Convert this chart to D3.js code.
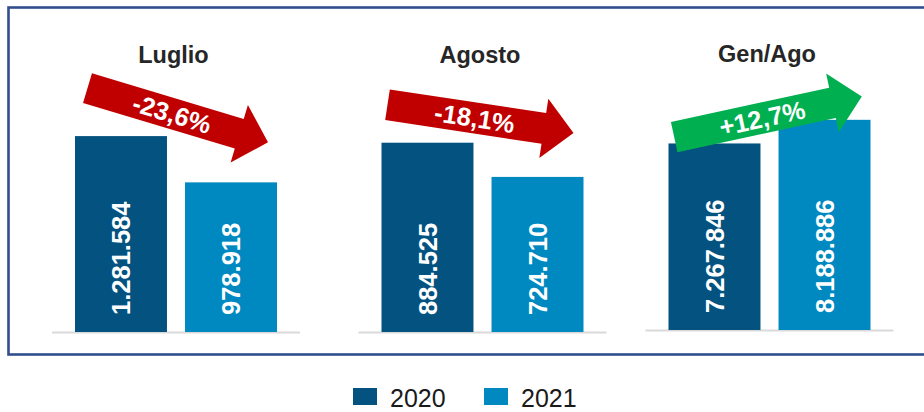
<!DOCTYPE html>
<html>
<head>
<meta charset="utf-8">
<script src="https://cdn.jsdelivr.net/npm/d3@7"></script>
<style>
  html, body { margin: 0; padding: 0; background: #ffffff; }
  svg { display: block; font-family: "Liberation Sans", Arial, Helvetica, sans-serif; }
</style>
</head>
<body>
<svg id="chart" width="924" height="412"></svg>
<script>
// ---- Data ----
const panels = ["Luglio", "Agosto", "Gen/Ago"];
const seriesNames = ["2020", "2021"];
const values2020 = [1281584, 884525, 7267846];
const values2021 = [978918, 724710, 8188886];
const changeLabels = ["-23,6%", "-18,1%", "+12,7%"];
const yMaxes = [1400000, 1000000, 9000000];

// ---- Layout / style ----
const W = 924, H = 412;
const colors = { "2020": "#03527f", "2021": "#0088c1" };
const panelCenters = [176, 482.5, 769.5];
const baselines = [332, 332, 330];
const plotHeights = [214, 214, 231];
const arrowColors = ["#c00000", "#c00000", "#00b050"];
// arrow offsets relative to bar tops: [startDx from bar1 left, startDy above bar1 top, tipDx from bar2 right, tipDy above bar2 top]
const arrowOffsets = [[12.5, 48, 9, 40], [6, 38, 10, 44], [5.7, 6.3, 8.7, 23.3]];

const it = d3.formatLocale({ decimal: ",", thousands: ".", grouping: [3], currency: ["€", ""] });
const fmt = it.format(",d");

const svg = d3.select("#chart");
svg.append("rect").attr("width", W).attr("height", H).attr("fill", "#ffffff");

// border box (right side runs off the picture)
svg.append("rect")
  .attr("x", 8.5).attr("y", 7.5).attr("width", 960).attr("height", 347)
  .attr("fill", "none").attr("stroke", "#304f8c").attr("stroke-width", 2.6);

panels.forEach((name, i) => {
  const cx = panelCenters[i];
  const x = d3.scaleBand().domain(seriesNames).range([cx - 101, cx + 101]).paddingInner(0.164).paddingOuter(0);
  const y = d3.scaleLinear().domain([0, yMaxes[i]]).range([baselines[i], baselines[i] - plotHeights[i]]);
  const data = [
    { s: "2020", v: values2020[i] },
    { s: "2021", v: values2021[i] }
  ];
  const g = svg.append("g");

  // baseline
  g.append("line")
    .attr("x1", cx - 124).attr("x2", cx + 124)
    .attr("y1", y(0) + 0.5).attr("y2", y(0) + 0.5)
    .attr("stroke", "#d9d9d9").attr("stroke-width", 2);

  // bars
  g.selectAll("rect.bar").data(data).enter().append("rect")
    .attr("class", "bar")
    .attr("x", d => x(d.s)).attr("width", x.bandwidth())
    .attr("y", d => y(d.v)).attr("height", d => y(0) - y(d.v))
    .attr("fill", d => colors[d.s]);

  // value labels (rotated)
  g.selectAll("text.val").data(data).enter().append("text")
    .attr("class", "val")
    .attr("transform", d => `translate(${x(d.s) + x.bandwidth() / 2},${y(0) - 17}) rotate(-90)`)
    .attr("dy", "0.36em")
    .attr("text-anchor", "start")
    .attr("font-size", 25.5).attr("font-weight", "bold").attr("fill", "#ffffff")
    .text(d => fmt(d.v));

  // title
  g.append("text")
    .attr("x", cx - 2.5).attr("y", i === 2 ? 62 : 63)
    .attr("text-anchor", "middle")
    .attr("font-size", 23.5).attr("font-weight", "bold").attr("fill", "#262626")
    .text(name);

  // arrow
  const o = arrowOffsets[i];
  const sx = x("2020") + o[0], sy = y(values2020[i]) - o[1];
  const tx = x("2021") + x.bandwidth() - o[2], ty = y(values2021[i]) - o[3];
  const L = Math.hypot(tx - sx, ty - sy);
  const ang = Math.atan2(ty - sy, tx - sx) * 180 / Math.PI;
  const sw = 15.5, hw = 30, hl = 30;
  const pts = [[0, -sw], [L - hl, -sw], [L - hl, -hw], [L, 0], [L - hl, hw], [L - hl, sw], [0, sw]];
  const ag = g.append("g").attr("transform", `translate(${sx},${sy}) rotate(${ang})`);
  ag.append("path")
    .attr("d", d3.line()(pts) + "Z")
    .attr("fill", arrowColors[i]);
  ag.append("text")
    .attr("x", (L - hl) / 2 + 9).attr("y", 0).attr("dy", "0.36em")
    .attr("text-anchor", "middle")
    .attr("font-size", 25.5).attr("font-weight", "bold").attr("fill", "#ffffff")
    .text(changeLabels[i]);
});

// legend
const legendX = [353, 484];
const lg = svg.append("g");
seriesNames.forEach((s, j) => {
  lg.append("rect").attr("x", legendX[j]).attr("y", 388).attr("width", 24).attr("height", 17).attr("fill", colors[s]);
  lg.append("text").attr("x", legendX[j] + 37).attr("y", 407)
    .attr("font-size", 25).attr("fill", "#1a1a1a").text(s);
});
</script>
</body>
</html>
